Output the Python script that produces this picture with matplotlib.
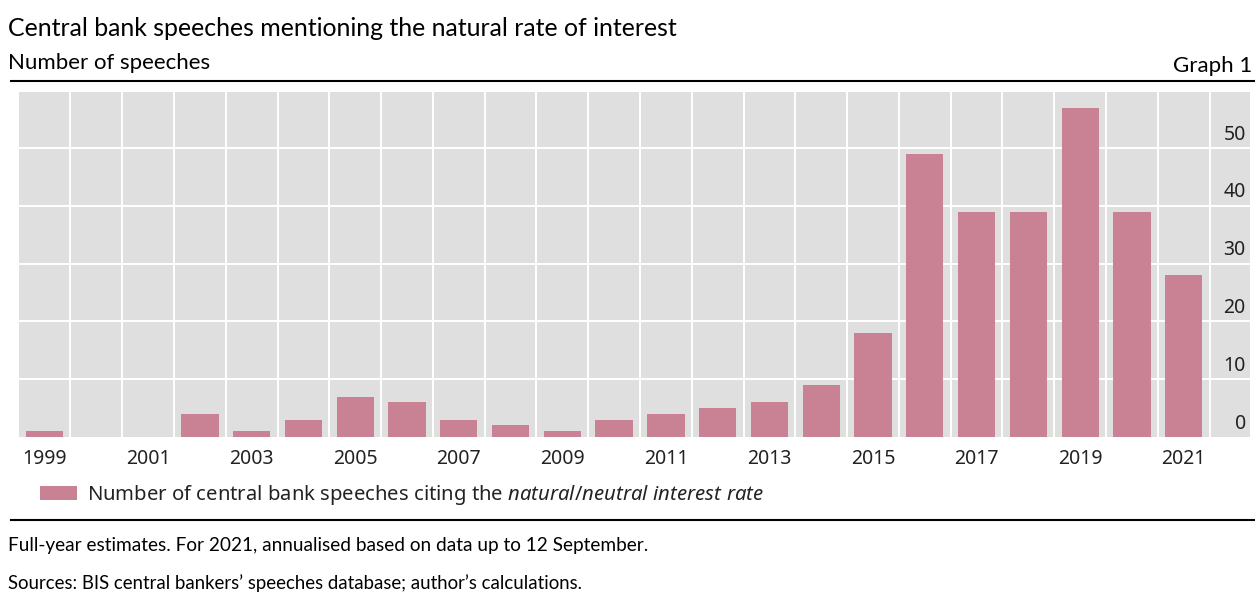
import matplotlib
matplotlib.use("Agg")
import matplotlib.pyplot as plt
import numpy as np

years = list(range(1999, 2022))
speeches = [1, 0, 0, 4, 1, 3, 7, 6, 3, 2, 1, 3, 4, 5, 6, 9, 18, 49, 39, 39, 57, 39, 28]
xtick_years = list(range(1999, 2022, 2))
yticks = [0, 10, 20, 30, 40, 50]

title = "Central bank speeches mentioning the natural rate of interest"
subtitle = "Number of speeches"
graph_no = "Graph 1"
legend_label = r"Number of central bank speeches citing the $\mathit{natural/neutral\ interest\ rate}$"
note1 = "Full-year estimates. For 2021, annualised based on data up to 12 September."
note2 = "Sources: BIS central bankers\u2019 speeches database; author\u2019s calculations."

plt.rcParams['mathtext.fontset'] = 'custom'
plt.rcParams['mathtext.it'] = 'Noto Sans:italic'
plt.rcParams['mathtext.rm'] = 'Noto Sans'

W, H = 1255, 601
fig = plt.figure(figsize=(W / 100, H / 100), dpi=100)

def fx(px):
    return px / W

def fy(py):
    return 1 - py / H

bar_color = "#C98294"
bg = "#DFDFDF"
tick_fs = 14

ax = fig.add_axes([fx(19.3), fy(437), fx(1250) - fx(19.3), fy(92) - fy(437)])
ax.set_facecolor(bg)
x = np.arange(len(years))
bars = ax.bar(x, speeches, width=0.72, color=bar_color, zorder=3, label=legend_label)
ax.set_xlim(-0.487, 23.28)
ax.set_ylim(0, 59.7)

# grid
for v in yticks[1:]:
    ax.axhline(v, color="white", lw=1.4, zorder=1)
for i in range(len(years)):
    ax.axvline(i + 0.5, color="white", lw=1.4, zorder=1)

for s in ax.spines.values():
    s.set_visible(False)

ax.set_xticks([years.index(y) for y in xtick_years])
ax.set_xticklabels([str(y) for y in xtick_years], fontsize=tick_fs, family="Noto Sans", color="#222222")
ax.tick_params(axis="x", length=0, pad=9)
ax.set_yticks([])

# y labels inside the plot, right side, above gridlines
for v in yticks:
    ax.annotate(str(v), xy=(1, v), xycoords=ax.get_yaxis_transform(),
                xytext=(-3, 2.5), textcoords="offset points",
                ha="right", va="bottom", fontsize=tick_fs, family="Noto Sans", color="#222222")

# title texts
fig.text(fx(8), fy(28), title, fontsize=17.9, family="Lato", va="center", ha="left", color="black")
fig.text(fx(8), fy(63), subtitle, fontsize=16, family="Lato", va="center", ha="left", color="black")
fig.text(fx(1252), fy(66), graph_no, fontsize=16, family="Lato", va="center", ha="right", color="black")

# rules
fig.add_artist(plt.Line2D([fx(11), 1.0], [fy(81), fy(81)], color="black", lw=1.5))
fig.add_artist(plt.Line2D([fx(11), 1.0], [fy(520), fy(520)], color="black", lw=1.5))

# legend
fs = 14.6
fs_px = fs * 100 / 72
leg = fig.legend(handles=[bars], labels=[legend_label], loc="center left",
                 bbox_to_anchor=(fx(40), fy(495)), frameon=False,
                 prop={"family": "Noto Sans", "size": fs},
                 handlelength=37 / fs_px, handleheight=14 / fs_px,
                 handletextpad=10 / fs_px, borderpad=0, borderaxespad=0)
for t in leg.get_texts():
    t.set_color("#222222")

fig.text(fx(8), fy(545), note1, fontsize=13.7, family="Lato", va="center", ha="left", color="black")
fig.text(fx(8), fy(583), note2, fontsize=13.4, family="Lato", va="center", ha="left", color="black")

fig.savefig("out.png", dpi=100)
